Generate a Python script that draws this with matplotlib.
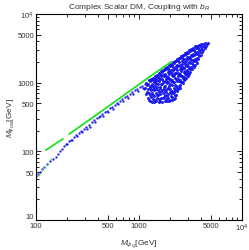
import matplotlib
matplotlib.use("Agg")
import matplotlib.pyplot as plt
from matplotlib.ticker import FixedLocator, NullFormatter

plt.rcParams['font.family'] = ['Liberation Sans', 'DejaVu Sans']
plt.rcParams['mathtext.fontset'] = 'custom'
plt.rcParams['mathtext.rm'] = 'Liberation Sans'
plt.rcParams['mathtext.it'] = 'Liberation Sans:italic'

# blue scan points along the diagonal band
line_x = [100, 104.6, 109.4, 114.4, 119.6, 127.9, 136.8, 146.3, 156.4, 163.6, 171.1, 178.9,
          187.1, 195.7, 200.1, 209.3, 218.9, 223.8, 234.0, 244.8, 250.3, 261.7, 273.7, 279.9,
          292.7, 306.1, 313, 327.3, 334.7, 350, 366, 374.3, 391.4, 409.3, 418.6, 437.7, 447.6,
          468.1, 489.5, 500.5, 523.4, 547.4, 559.7, 585.4, 612.1, 626, 654.6, 684.5, 700, 732,
          765.5, 782.8, 818.6, 856, 875.3, 915.4, 957.2, 978.9, 1023, 1069, 1094, 1144, 1118]
line_y = [43.8, 46.8, 50.1, 55.4, 59.2, 65.5, 72.4, 77.4, 82.7, 91.5, 99.5, 108.2,
          119.6, 127.9, 130, 141.4, 148.7, 146.2, 161.7, 172.9, 167.2, 188, 197.8, 191.2,
          211.5, 226.1, 215, 241.8, 229.9, 267.4, 285.9, 267.4, 305.8, 321.5, 332.5, 349.6, 327,
          380.2, 393.1, 373.9, 427.6, 449.6, 420.5, 480.8, 514.2, 488.9, 549.8, 578.1, 540.7, 618.2,
          650, 607.9, 695.2, 731, 683.6, 769, 808.4, 756, 864.4, 909, 835.9, 955.9, 808]

# blue blob of heavy points
blob_x = [1170, 1196, 1144, 1196, 1170, 1223,
          1251, 1223, 1279, 1223, 1251, 1279, 1251,
          1308, 1279, 1337, 1279, 1308, 1308, 1279,
          1368, 1337, 1399, 1337, 1368, 1337, 1368, 1368, 1337,
          1430, 1399, 1430, 1430, 1399, 1399, 1463, 1399, 1430, 1399,
          1496, 1463, 1496, 1463, 1496, 1463, 1496, 1496, 1463,
          1564, 1529, 1564, 1564, 1529, 1599, 1529, 1564, 1529, 1564, 1564,
          1636, 1599, 1636, 1599, 1636, 1599, 1636, 1599, 1636, 1599,
          1710, 1673, 1710, 1673, 1710, 1673, 1749, 1673, 1710, 1710, 1673,
          1789, 1749, 1789, 1749, 1829, 1749, 1789, 1749, 1789, 1789, 1749, 1789,
          1870, 1829, 1913, 1829, 1870, 1829, 1870, 1870, 1829, 1870, 1829, 1870,
          1956, 1913, 1956, 1956, 1913, 1956, 1913, 1956, 1913, 2000, 1913, 1913, 1956,
          2045, 2000, 2045, 2000, 2091, 2000, 2045, 2000, 2000, 2045, 2045, 2000,
          2139, 2091, 2139, 2139, 2091, 2139, 2091, 2139, 2091, 2187, 2091, 2139, 2091, 2091,
          2237, 2187, 2287, 2187, 2237, 2187, 2237, 2187, 2237, 2237, 2187, 2237, 2187,
          2339, 2287, 2339, 2287, 2339, 2287, 2392, 2287, 2339, 2287, 2339, 2339, 2287, 2237,
          2446, 2392, 2446, 2392, 2501, 2392, 2446, 2392, 2446, 2446, 2392,
          2558, 2501, 2615, 2501, 2558, 2558, 2501, 2558, 2501, 2558, 2501, 2501,
          2675, 2615, 2675, 2615, 2675, 2615, 2735, 2615, 2675, 2615, 2675,
          2797, 2735, 2797, 2735, 2797, 2735, 2797, 2797, 2735, 2797, 2735,
          2925, 2860, 2925, 2860, 2925, 2860, 2925, 2860, 2925, 2860,
          3058, 2991, 3058, 2991, 3058, 2991, 3058, 2991, 3058, 2991,
          3198, 3128, 3198, 3128, 3198, 3128, 3198, 3128, 3128,
          3344, 3271, 3344, 3271, 3344, 3271, 3344, 3271,
          3497, 3420, 3497, 3420, 3497, 3420, 3497, 3420,
          3657, 3576, 3657, 3576, 3657, 3576, 3657,
          3824, 3740, 3824, 3740, 3824, 3740,
          3999, 3911, 3999, 3911, 3999,
          4182, 4090, 4182, 4090,
          4373, 4277, 4373,
          4573, 4472, 4677]
blob_y = [989, 924, 836, 731, 684, 598,
          1093, 956, 894, 808, 707, 661, 559,
          1130, 1057, 956, 836, 782, 618, 541,
          1169, 1093, 1022, 894, 808, 707, 661, 578, 523,
          1250, 1130, 1057, 924, 864, 782, 707, 639, 559, 523,
          1293, 1169, 1093, 989, 864, 808, 661, 598, 541,
          1382, 1250, 1169, 1057, 956, 864, 782, 731, 661, 578, 523,
          1478, 1337, 1250, 1130, 956, 836, 756, 684, 598, 541,
          1529, 1429, 1293, 1130, 1057, 956, 864, 782, 707, 598, 523,
          1635, 1529, 1337, 1250, 1130, 1022, 894, 808, 756, 661, 618, 541,
          1690, 1581, 1429, 1250, 1169, 1057, 989, 808, 731, 639, 578, 541,
          1808, 1635, 1529, 1337, 1209, 1130, 1022, 894, 836, 731, 684, 598, 541,
          1869, 1748, 1529, 1429, 1293, 1130, 1057, 956, 808, 707, 639, 559,
          1999, 1808, 1690, 1529, 1382, 1250, 1093, 1022, 924, 836, 756, 707, 618, 559,
          2067, 1933, 1748, 1581, 1382, 1293, 1169, 1022, 924, 782, 731, 661, 578,
          2210, 2067, 1808, 1635, 1529, 1382, 1250, 1130, 1057, 894, 836, 756, 661, 598,
          2286, 2137, 1999, 1748, 1581, 1382, 1293, 1130, 1057, 894, 808,
          2444, 2286, 2067, 1808, 1690, 1478, 1337, 1250, 1093, 1022, 924, 836,
          2528, 2364, 2210, 1869, 1690, 1581, 1429, 1250, 1169, 1022, 989,
          2703, 2528, 2210, 1999, 1869, 1635, 1478, 1337, 1209, 1130, 1093,
          2795, 2614, 2364, 2067, 1869, 1748, 1529, 1382, 1293, 1169,
          2989, 2703, 2364, 2210, 1999, 1748, 1635, 1429, 1337, 1250,
          3091, 2890, 2528, 2286, 2137, 1933, 1690, 1581, 1429,
          3196, 2989, 2614, 2444, 2137, 1933, 1808, 1581,
          3418, 2989, 2795, 2528, 2210, 2067, 1808, 1690,
          3418, 3196, 2795, 2614, 2286, 2067, 1933,
          3535, 3196, 2989, 2614, 2444, 2210,
          3655, 3418, 3091, 2795, 2528,
          3655, 3305, 2989, 2795,
          3780, 3418, 3196,
          3655, 3418, 3780]

# green points
green1_x = [125, 138, 150, 165, 182]
green1_y = [104.6, 115, 125.3, 137.5, 151]
green2_x = [211, 268, 419, 732, 1279, 2045]
green2_y = [179, 231, 371, 675, 1229, 1999]
green_dots_x = [106.9, 114.4, 122.3, 130.8, 139.9]
green_dots_y = [45.3, 53.5, 59.2, 65.5, 76.1]

blue = '#1010ee'
green = '#22e022'

fig = plt.figure(figsize=(2.49, 2.51), dpi=100)
ax = fig.add_axes([36 / 249, 1 - 221 / 251, 206 / 249, 206 / 251])

ax.plot(line_x, line_y, 'o', color=blue, ms=1.7, mew=0, alpha=0.9)
ax.plot(blob_x, blob_y, 'o', color=blue, ms=2.2, mew=0, alpha=0.9)
ax.plot(green_dots_x, green_dots_y, 'o', color='#66e066', ms=1.5, mew=0)
ax.plot(green1_x, green1_y, '-', color=green, lw=1.3)
ax.plot(green2_x, green2_y, '-', color=green, lw=1.3)

ax.set_xscale('log')
ax.set_yscale('log')
ax.set_xlim(100, 1e4)
ax.set_ylim(10, 1e4)

ax.xaxis.set_major_locator(FixedLocator([100, 500, 1000, 5000, 10000]))
ax.set_xticklabels(['100', '500', '1000', '5000', '$10^4$'])
ax.yaxis.set_major_locator(FixedLocator([10, 50, 100, 500, 1000, 5000, 10000]))
ax.set_yticklabels(['10', '50', '100', '500', '1000', '5000', '$10^4$'])
minors_x = [m * d for d in [100, 1000] for m in [2, 3, 4, 6, 7, 8, 9]]
minors_y = [m * d for d in [10, 100, 1000] for m in [2, 3, 4, 6, 7, 8, 9]]
ax.xaxis.set_minor_locator(FixedLocator(minors_x))
ax.yaxis.set_minor_locator(FixedLocator(minors_y))
ax.xaxis.set_minor_formatter(NullFormatter())
ax.yaxis.set_minor_formatter(NullFormatter())

ax.tick_params(which='both', direction='in', top=True, right=True,
               labelsize=5.5, labelcolor='#333333', width=0.6, pad=1.5)
ax.tick_params(which='major', length=3.5)
ax.tick_params(which='minor', length=2)
ax.get_yticklabels()[0].set_verticalalignment('bottom')
for s in ax.spines.values():
    s.set_linewidth(0.8)

ax.set_title('Complex Scalar DM, Coupling with $b_R$', fontsize=6, color='#333333', pad=4)
ax.set_xlabel(r'$M_{\psi_Q}$[GeV]', fontsize=6, color='#333333', labelpad=3)
ax.set_ylabel(r'$M_{\phi_{DM}}$[GeV]', fontsize=6, color='#333333', labelpad=1)

fig.savefig('out.png', dpi=100)
